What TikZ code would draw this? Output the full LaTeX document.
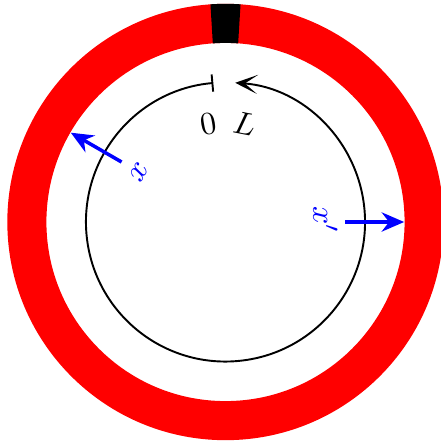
\documentclass[tikz,border=0pt]{standalone}
\usetikzlibrary{arrows.meta}
\begin{document}
\begin{tikzpicture}[
          ringband/.style={red, line width=0.43cm},
          gapband/.style={black, line width=0.43cm},
          loopline/.style={line width=0.6pt},
          fluxarrow/.style={blue, line width=1.1pt, -{Stealth[length=7pt, width=6pt]}},
          polarlbl/.style={inner sep=0pt}]
        \useasboundingbox (-2.4805,-2.464) rectangle (2.3705,2.442);
        \draw[ringband] (0,0) circle (2.185);
        \draw[gapband] (86:2.185) arc (86:94:2.185);
        \draw[loopline, |-{Stealth[length=7pt, width=6pt, inset=4pt]}] (95:1.535) arc (95:446:1.535);
        \node[polarlbl, rotate=10] (zero) at (100:1.1) {$0$};
        \node[polarlbl, rotate=-11] (ell) at (79:1.1) {$L$};
        \foreach \ang/\nm in {150/x, 0/xp} {
          \coordinate (\nm in) at (\ang:1.32);
          \coordinate (\nm out) at (\ang:1.965);
          \draw[fluxarrow] (\nm in) -- (\nm out);
        }
        \node[polarlbl, text=blue, rotate=60] (xlbl) at (150:1.1) {$x$};
        \node[polarlbl, text=blue, rotate=-90] (xplbl) at (1:1.1) {$x'$};
      \end{tikzpicture}
\end{document}
